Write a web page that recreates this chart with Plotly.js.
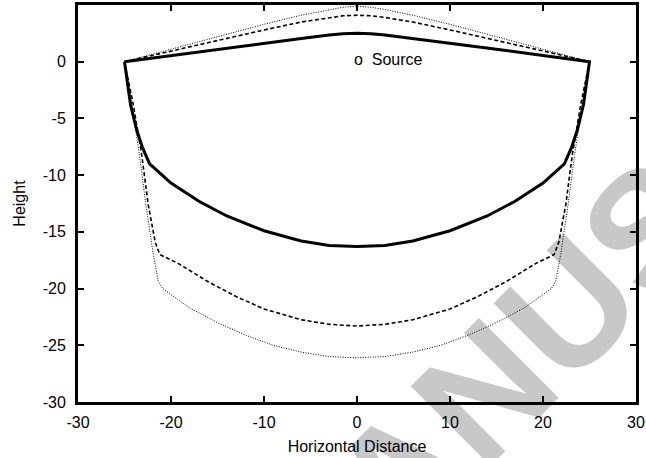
<!DOCTYPE html>
<html>
<head>
<meta charset="utf-8">
<script src="https://cdn.plot.ly/plotly-3.0.1.min.js"></script>
<style>
  html, body { margin:0; padding:0; background:#fff; }
  #wrap { position:relative; width:646px; height:458px; }
  #wm, #chart { position:absolute; left:0; top:0; width:646px; height:458px; }
</style>
</head>
<body>
<div id="wrap"><div id="wm"></div><div id="chart"></div></div>
<script>
// Solid (thick) boundary
var solidX = [-25, -20, -15, -10, -6, -3, -1.5, 0, 1.5, 3, 6, 10, 15, 20, 25,
              24.35, 23.7, 23.05, 22.3,
              20, 17, 14, 10, 6, 3, 0, -3, -6, -10, -14, -17, -20,
              -22.3, -23.05, -23.7, -24.35, -25];
var solidY = [0, 0.55, 1.1, 1.65, 2.05, 2.35, 2.47, 2.5, 2.47, 2.35, 2.05, 1.65, 1.1, 0.55, 0,
              -3.8, -6.0, -7.6, -9.0,
              -10.7, -12.3, -13.6, -14.9, -15.8, -16.2, -16.3, -16.2, -15.8, -14.9, -13.6, -12.3, -10.7,
              -9.0, -7.6, -6.0, -3.8, 0];
// Dashed boundary
var dashX = [-25, -20, -15, -10, -6, -3, -1.5, 0, 1.5, 3, 6, 10, 15, 20, 25,
             24.05, 23.15, 22.45, 21.7, 21.2,
             19.2, 16, 13, 10, 6, 3, 0, -3, -6, -10, -13, -16, -19.2,
             -21.2, -21.7, -22.45, -23.15, -24.05, -25];
var dashY = [0, 0.95, 1.9, 2.8, 3.5, 3.9, 4.05, 4.1, 4.05, 3.9, 3.5, 2.8, 1.9, 0.95, 0,
             -3.8, -8.2, -12.6, -15.9, -17.0,
             -17.8, -19.4, -20.7, -21.8, -22.75, -23.15, -23.3, -23.15, -22.75, -21.8, -20.7, -19.4, -17.8,
             -17.0, -15.9, -12.6, -8.2, -3.8, 0];
// Dotted boundary
var dotX = [-25, -20, -15, -10, -6, -3, -1.5, 0, 1.5, 3, 6, 10, 15, 20, 25,
            24.2, 23.4, 22.7, 21.9, 21.35, 20.9,
            18, 15, 12, 9, 6, 3, 0, -3, -6, -9, -12, -15, -18,
            -20.9, -21.35, -21.9, -22.7, -23.4, -24.2, -25];
var dotY = [0, 1.1, 2.2, 3.3, 4.1, 4.6, 4.8, 4.9, 4.8, 4.6, 4.1, 3.3, 2.2, 1.1, 0,
            -3.8, -8.2, -12.6, -17.0, -19.4, -20.0,
            -21.7, -23.0, -24.1, -25.0, -25.6, -26.0, -26.1, -26.0, -25.6, -25.0, -24.1, -23.0, -21.7,
            -20.0, -19.4, -17.0, -12.6, -8.2, -3.8, 0];
var xTicks = [-30, -20, -10, 0, 10, 20, 30];
var yTicks = [-30, -25, -20, -15, -10, -5, 0, 5];
var sourceLabel = 'o  Source';
var sourceX = 0, sourceY = 0.2;
var watermark = '<b>MANUSCRIPT</b>';

var FONT = 'Liberation Sans, Arial, Helvetica, sans-serif';

// watermark layer (behind the chart)
Plotly.newPlot('wm', [], {
  width: 646, height: 458,
  margin: {l:0, r:0, t:0, b:0},
  paper_bgcolor: '#ffffff', plot_bgcolor: '#ffffff',
  xaxis: {range: [0, 646], visible: false},
  yaxis: {range: [458, 0], visible: false},
  annotations: [{
    x: 1.0046, y: 0.504, xref: 'paper', yref: 'paper', xanchor: 'center', yanchor: 'middle',
    text: watermark, showarrow: false,
    textangle: -45, font: {family: FONT, size: 164, color: '#c8c8c8'}
  }]
}, {staticPlot: true});

var traces = [
  {x: dotX, y: dotY, mode: 'lines', line: {color: '#000', width: 1, dash: '1px,1.5px'}, hoverinfo: 'skip'},
  {x: dashX, y: dashY, mode: 'lines', line: {color: '#000', width: 1.6, dash: '4px,2.5px'}, hoverinfo: 'skip'},
  {x: solidX, y: solidY, mode: 'lines', line: {color: '#000', width: 3}, hoverinfo: 'skip'}
];

var axisCommon = {
  showgrid: false, zeroline: false, ticks: 'inside', ticklen: 6, tickwidth: 2,
  tickcolor: '#000', linecolor: '#000', linewidth: 3, mirror: 'ticks', showline: true,
  tickfont: {family: FONT, size: 16, color: '#000'}
};

var layout = {
  width: 646, height: 458,
  margin: {l: 78, r: 10, t: 5, b: 56},
  paper_bgcolor: 'rgba(0,0,0,0)', plot_bgcolor: 'rgba(0,0,0,0)',
  showlegend: false,
  xaxis: Object.assign({}, axisCommon, {
    range: [-30, 30], tickvals: xTicks, ticktext: xTicks.map(String),
    ticklabelstandoff: 4,
    title: {text: 'Horizontal Distance', font: {family: FONT, size: 16, color: '#000'}, standoff: 11}
  }),
  yaxis: Object.assign({}, axisCommon, {
    range: [-30, 5], tickvals: yTicks, ticktext: yTicks.map(String),
    ticklabelstandoff: 6,
    title: {text: 'Height', font: {family: FONT, size: 16, color: '#000'}, standoff: 14}
  }),
  annotations: [{
    x: sourceX, y: sourceY, xref: 'x', yref: 'y', text: sourceLabel, showarrow: false,
    xanchor: 'left', yanchor: 'middle', xshift: -5,
    font: {family: FONT, size: 16, color: '#000'}
  }]
};

Plotly.newPlot('chart', traces, layout, {staticPlot: true});
</script>
</body>
</html>
